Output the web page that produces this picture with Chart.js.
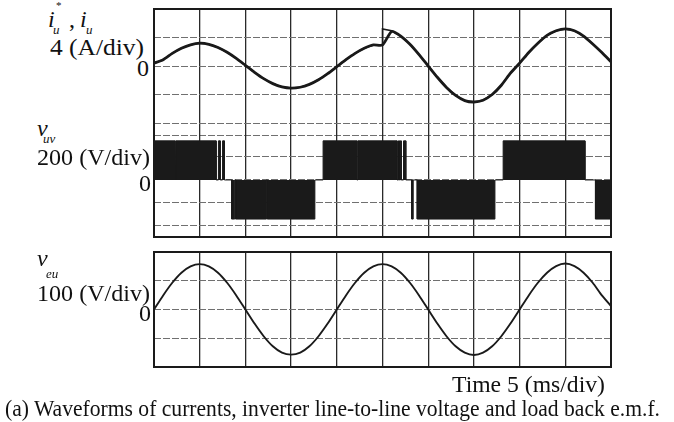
<!DOCTYPE html>
<html>
<head>
<meta charset="utf-8">
<script src="https://cdn.jsdelivr.net/npm/chart.js@4.4.0/dist/chart.umd.min.js"></script>
<style>
  html, body { margin: 0; padding: 0; background: #fff; }
  #page { position: relative; width: 674px; height: 422px; overflow: hidden;
          font-family: "Liberation Serif", "Times New Roman", serif; color: #111; }
  canvas { position: absolute; }
  .lbl { position: absolute; white-space: nowrap; line-height: 1; transform-origin: 0 0; }
</style>
</head>
<body>
<div id="page">
  <canvas id="curChart" width="465" height="134" style="left:150px;top:5px"></canvas>
  <canvas id="pwmChart" width="465" height="110" style="left:150px;top:131px"></canvas>
  <canvas id="emfChart" width="465" height="123" style="left:150px;top:248px"></canvas>
</div>
<script>
// time grid, 5 ms/div
var divTimes = [0, 5, 10, 15, 20, 25, 30, 35, 40, 45, 50];

// phase current i_u (A), read every 1 ms
var timeMs = [0,1,2,3,4,5,6,7,8,9,10,11,12,13,14,15,16,17,18,19,20,21,22,23,24,25,
              26,27,28,29,30,31,32,33,34,35,36,37,38,39,40,41,42,43,44,45,46,47,48,49,50];
var iuActual = [0.4,0.88,1.77,2.49,2.98,3.2,3.05,2.6,1.93,1.07,0.1,-0.88,-1.77,-2.47,-2.93,-3.1,-2.98,-2.58,-1.93,-1.07,-0.1,
                0.88,1.77,2.49,2.96,2.95,4.85,4.2,3.05,1.6,0,-1.58,-3.0,-4.13,-4.85,-5.05,-4.8,-4.0,-2.7,-1.0,0.4,
                1.9,3.2,4.3,4.95,5.2,4.95,4.2,3.1,1.9,0.6];
// current reference i_u* (A): steps up at 25 ms
var refTimeMs = [0,1,2,3,4,5,6,7,8,9,10,11,12,13,14,15,16,17,18,19,20,21,22,23,24,25,25,
                 26,27,28,29,30,31,32,33,34,35,36,37,38,39,40,41,42,43,44,45,46,47,48,49,50];
var iuRef = [0.4,0.88,1.77,2.49,2.98,3.2,3.05,2.6,1.93,1.07,0.1,-0.88,-1.77,-2.47,-2.93,-3.1,-2.98,-2.58,-1.93,-1.07,-0.1,
             0.88,1.77,2.49,2.96,2.95,5.2,4.95,4.2,3.05,1.6,0,-1.58,-3.0,-4.13,-4.85,-5.05,-4.8,-4.0,-2.7,-1.0,0.4,
             1.9,3.2,4.3,4.95,5.2,4.95,4.2,3.1,1.9,0.6];

// line-to-line voltage v_uv (V): PWM envelope edges
var pwmTimeMs = [0,2.3,2.3,2.4,2.4,6.8,6.8,7.05,7.05,7.25,7.25,7.5,7.5,7.7,7.7,
                 8.5,8.5,8.83,8.83,8.93,8.93,12.3,12.3,12.4,12.4,17.6,17.6,
                 18.5,18.5,22.2,22.2,22.3,22.3,26.6,26.6,26.75,26.75,26.85,26.85,26.95,26.95,27.05,27.05,27.3,27.3,27.55,27.55,
                 28.2,28.2,28.36,28.36,28.8,28.8,37.3,37.3,
                 38.2,38.2,47.15,47.15,48.3,48.3,50];
var pwmVolts  = [340,340,0,0,340,340,0,0,340,340,0,0,340,340,0,
                 0,-340,-340,0,0,-340,-340,0,0,-340,-340,0,
                 0,340,340,0,0,340,340,0,0,340,340,0,0,340,340,0,0,340,340,0,
                 0,-340,-340,0,0,-340,-340,0,
                 0,340,340,0,0,-340,-340];

// load back e.m.f. v_eu (V), read every 1 ms
var emfVolts = [0,49,93,128,150,158,150,128,93,49,0,-49,-93,-128,-150,-157,-150,-128,-93,-49,0,
                49,93,128,150,158,150,128,93,49,0,-49,-93,-128,-150,-158,-150,-128,-93,-49,0,
                49,93,128,151,160,151,128,93,49,12];

function toPoints(xs, ys) {
  return xs.map(function (x, i) { return { x: x, y: ys[i] }; });
}

var ink = '#1a1a1a';

var framePlugin = {
  id: 'frame',
  afterDatasetsDraw: function (chart, args, opts) {
    var a = chart.chartArea, c = chart.ctx;
    var sides = [
      [opts.top, a.left, a.top, a.right, a.top],
      [opts.bottom, a.left, a.bottom, a.right, a.bottom],
      [opts.left, a.left, a.top, a.left, a.bottom],
      [opts.right, a.right, a.top, a.right, a.bottom]
    ];
    c.save();
    c.strokeStyle = ink;
    c.lineCap = 'square';
    sides.forEach(function (s) {
      if (!s[0]) return;
      c.lineWidth = s[0];
      c.beginPath();
      c.moveTo(s[1], s[2]);
      c.lineTo(s[3], s[4]);
      c.stroke();
    });
    c.restore();
  }
};

function xScale() {
  return {
    type: 'linear', min: 0, max: 50,
    afterBuildTicks: function (s) { s.ticks = divTimes.map(function (v) { return { value: v }; }); },
    ticks: { display: false },
    grid: { color: '#2a2a2a', lineWidth: 1.3, drawTicks: false },
    border: { display: false }
  };
}

function yScale(min, max, lines) {
  return {
    min: min, max: max,
    afterBuildTicks: function (s) { s.ticks = lines.map(function (v) { return { value: v }; }); },
    ticks: { display: false },
    grid: { color: '#707070', lineWidth: 1, drawTicks: false },
    border: { display: false, dash: [7, 2] }
  };
}

function baseOptions(yOpts, frame) {
  return {
    responsive: false,
    animation: false,
    devicePixelRatio: 1,
    layout: { padding: 4 },
    scales: { x: xScale(), y: yOpts },
    plugins: { legend: { display: false }, tooltip: { enabled: false }, frame: frame }
  };
}

// top: 4 A/div
new Chart(document.getElementById('curChart'), {
  type: 'line',
  data: {
    datasets: [
      { label: 'i_u*', data: toPoints(refTimeMs, iuRef), borderColor: ink, borderWidth: 1.6,
        pointRadius: 0, tension: 0, fill: false },
      { label: 'i_u', data: toPoints(timeMs, iuActual), borderColor: ink, borderWidth: 2.8,
        pointRadius: 0, tension: 0.2, fill: false }
    ]
  },
  options: baseOptions(yScale(-9.68, 8, [8, 4, 0, -4, -8, -9.68]), { top: 2, left: 2, right: 2, bottom: 0 }),
  plugins: [framePlugin]
});

// middle: 200 V/div
new Chart(document.getElementById('pwmChart'), {
  type: 'line',
  data: {
    datasets: [
      { label: 'v_uv', data: toPoints(pwmTimeMs, pwmVolts), borderColor: ink, backgroundColor: ink,
        borderWidth: 1, pointRadius: 0, tension: 0, fill: 'origin' }
    ]
  },
  options: baseOptions(yScale(-496, 391, [200, 0, -200, -400]), { top: 0, left: 2, right: 2, bottom: 2 }),
  plugins: [framePlugin]
});

// bottom: 100 V/div
new Chart(document.getElementById('emfChart'), {
  type: 'line',
  data: {
    datasets: [
      { label: 'v_eu', data: toPoints(timeMs, emfVolts), borderColor: ink, borderWidth: 1.9,
        pointRadius: 0, tension: 0.2, fill: false }
    ]
  },
  options: baseOptions(yScale(-200, 200, [200, 100, 0, -100, -200]), { top: 2, left: 2, right: 2, bottom: 2 }),
  plugins: [framePlugin]
});

// text: [text, left, baseline, size, italic, width to fit]
var labels = [
  ['i', 48, 27, 24, true],
  ['u', 53, 34, 13, true],
  ['*', 56, 9, 11, false],
  [',', 69, 27, 24, false],
  ['i', 80, 27, 24, true],
  ['u', 86, 34, 13, true],
  ['4 (A/div)', 50, 55, 24, false, 94],
  ['0', 137, 76, 24, false],
  ['v', 37, 136, 24, true],
  ['uv', 43, 143, 13, true],
  ['200 (V/div)', 37, 165, 24, false, 113],
  ['0', 139, 191, 24, false],
  ['v', 37, 266, 24, true],
  ['eu', 46, 278, 13, true],
  ['100 (V/div)', 37, 301, 24, false, 113],
  ['0', 139, 321, 24, false],
  ['Time 5 (ms/div)', 452, 392, 24, false, 153],
  ['(a) Waveforms of currents, inverter line-to-line voltage and load back e.m.f.', 5, 416, 24, false, 655]
];

var page = document.getElementById('page');
labels.forEach(function (l) {
  var el = document.createElement('div');
  el.className = 'lbl';
  el.textContent = l[0];
  el.style.fontSize = l[3] + 'px';
  el.style.left = l[1] + 'px';
  el.style.top = (l[2] - 0.8375 * l[3]) + 'px';
  if (l[4]) el.style.fontStyle = 'italic';
  page.appendChild(el);
  if (l[5]) {
    var w = el.getBoundingClientRect().width;
    el.style.transform = 'scaleX(' + (l[5] / w) + ')';
  }
});
</script>
</body>
</html>
